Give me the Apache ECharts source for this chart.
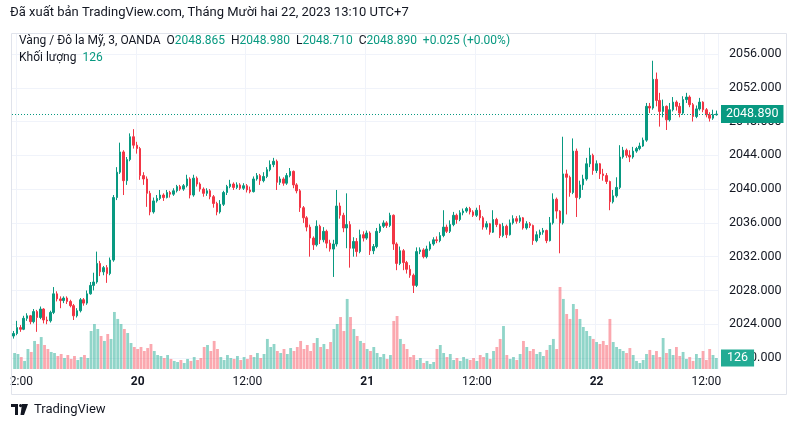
<!DOCTYPE html>
<html>
<head>
<meta charset="utf-8">
<script src="https://cdn.jsdelivr.net/npm/echarts@6/dist/echarts.min.js"></script>
<style>
html, body { margin: 0; padding: 0; background: #fff; }
#chart { width: 797px; height: 429px; }
</style>
</head>
<body>
<div id="chart"></div>
<script>
// 20-minute candles, Dec 19 11:40 -> Dec 22 13:00 (UTC+7)
const opens = [
  2022.6,2022.9,2023.6,2023.4,2024.7,2025.0,2024.3,2025.5,2024.8,2025.8,
  2024.5,2024.4,2025.4,2027.6,2027.0,2026.8,2027.1,2026.7,2026.2,2025.0,
  2025.6,2026.9,2026.5,2027.6,2028.6,2029.0,2031.2,2030.2,2030.7,2030.0,
  2031.6,2039.0,2042.0,2044.4,2041.0,2043.5,2046.2,2045.2,2044.8,2041.6,
  2041.2,2039.5,2037.3,2038.6,2038.9,2039.3,2039.0,2039.6,2039.4,2039.8,
  2040.3,2040.0,2040.4,2041.2,2039.3,2041.3,2040.6,2040.0,2039.5,2039.8,
  2039.1,2038.3,2037.3,2038.2,2039.6,2040.3,2040.6,2040.2,2040.5,2040.1,
  2040.4,2039.9,2039.7,2041.2,2041.6,2041.0,2041.5,2042.3,2042.9,2043.3,
  2040.8,2041.2,2040.7,2041.6,2042.1,2040.5,2039.8,2037.8,2036.6,2035.5,
  2034.2,2033.4,2035.6,2034.0,2035.0,2033.6,2032.9,2033.5,2038.0,2036.9,
  2035.4,2035.8,2033.0,2033.8,2032.6,2034.6,2034.2,2034.8,2032.7,2033.2,
  2035.0,2035.6,2036.0,2035.7,2036.9,2033.5,2031.2,2032.7,2031.3,2030.5,
  2029.8,2028.6,2032.6,2032.8,2032.0,2032.9,2033.5,2034.0,2033.9,2034.5,
  2035.5,2035.0,2035.8,2036.9,2036.4,2037.2,2037.4,2037.7,2037.3,2036.9,
  2037.5,2036.6,2035.5,2035.9,2034.9,2036.4,2035.8,2034.5,2035.6,2034.6,
  2036.0,2036.5,2036.2,2036.6,2035.4,2035.9,2035.7,2033.9,2034.6,2034.9,
  2035.1,2033.9,2036.0,2038.8,2037.4,2036.0,2041.8,2041.4,2039.6,2044.5,
  2039.0,2040.5,2041.2,2043.0,2044.0,2042.2,2043.0,2041.8,2041.6,2040.9,
  2038.5,2039.2,2040.2,2043.8,2044.6,2044.0,2043.8,2044.5,2044.8,2045.1,
  2045.8,2049.8,2049.6,2053.0,2050.5,2049.2,2049.8,2048.2,2049.4,2050.3,
  2049.8,2049.0,2050.6,2050.9,2050.0,2048.6,2049.5,2050.3,2049.4,2048.8,
  2048.4,2048.8
];
const closes = [
  2022.9,2023.6,2023.4,2024.7,2025.0,2024.3,2025.5,2024.8,2025.8,2024.5,
  2024.4,2025.4,2027.6,2027.0,2026.8,2027.1,2026.7,2026.2,2025.0,2025.6,
  2026.9,2026.5,2027.6,2028.6,2029.0,2031.2,2030.2,2030.7,2030.0,2031.6,
  2039.0,2042.0,2044.4,2041.0,2043.5,2046.2,2045.2,2044.8,2041.6,2041.2,
  2039.5,2037.3,2038.6,2038.9,2039.3,2039.0,2039.6,2039.4,2039.8,2040.3,
  2040.0,2040.4,2041.2,2039.3,2041.3,2040.6,2040.0,2039.5,2039.8,2039.1,
  2038.3,2037.3,2038.2,2039.6,2040.3,2040.6,2040.2,2040.5,2040.1,2040.4,
  2039.9,2039.7,2041.2,2041.6,2041.0,2041.5,2042.3,2042.9,2043.3,2040.8,
  2041.2,2040.7,2041.6,2042.1,2040.5,2039.8,2037.8,2036.6,2035.5,2034.2,
  2033.4,2035.6,2034.0,2035.0,2033.6,2032.9,2033.5,2038.0,2036.9,2035.4,
  2035.8,2033.0,2033.8,2032.6,2034.6,2034.2,2034.8,2032.7,2033.2,2035.0,
  2035.6,2036.0,2035.7,2036.9,2033.5,2031.2,2032.7,2031.3,2030.5,2029.8,
  2028.6,2032.6,2032.8,2032.0,2032.9,2033.5,2034.0,2033.9,2034.5,2035.5,
  2035.0,2035.8,2036.9,2036.4,2037.2,2037.4,2037.7,2037.3,2036.9,2037.5,
  2036.6,2035.5,2035.9,2034.9,2036.4,2035.8,2034.5,2035.6,2034.6,2036.0,
  2036.5,2036.2,2036.6,2035.4,2035.9,2035.7,2033.9,2034.6,2034.9,2035.1,
  2033.9,2036.0,2038.8,2037.4,2036.0,2041.8,2041.4,2039.6,2044.5,2039.0,
  2040.5,2041.2,2043.0,2044.0,2042.2,2043.0,2041.8,2041.6,2040.9,2038.5,
  2039.2,2040.2,2043.8,2044.6,2044.0,2043.8,2044.5,2044.8,2045.1,2045.8,
  2049.8,2049.6,2053.0,2050.5,2049.2,2049.8,2048.2,2049.4,2050.3,2049.8,
  2049.0,2050.6,2050.9,2050.0,2048.6,2049.5,2050.3,2049.4,2048.8,2048.4,
  2048.8,2048.89
];
const highs = [
  2023.2,2024.4,2023.9,2025.0,2025.3,2025.1,2025.8,2025.7,2026.1,2025.9,
  2024.9,2025.6,2028.4,2027.9,2027.3,2027.3,2027.3,2026.9,2026.4,2025.9,
  2027.1,2027.1,2028.0,2029.0,2030.1,2032.6,2031.5,2030.9,2031.0,2031.9,
  2039.3,2042.6,2045.5,2044.6,2043.8,2046.6,2047.1,2045.6,2045.0,2042.0,
  2041.5,2039.8,2039.0,2039.3,2039.9,2039.5,2039.9,2039.8,2040.1,2040.5,
  2040.5,2040.6,2041.7,2041.4,2041.7,2041.5,2040.8,2040.2,2040.1,2040.0,
  2039.3,2038.5,2038.7,2039.8,2040.5,2041.1,2040.8,2040.8,2040.7,2040.7,
  2040.6,2040.3,2041.5,2041.9,2041.8,2042.0,2042.6,2043.4,2043.7,2043.5,
  2041.5,2041.4,2041.9,2042.5,2042.2,2040.7,2040.0,2038.0,2036.8,2035.8,
  2034.4,2036.3,2035.8,2035.5,2035.2,2034.0,2034.0,2039.9,2038.4,2037.2,
  2039.5,2036.2,2034.3,2034.2,2035.2,2035.0,2035.1,2035.0,2033.5,2035.4,
  2035.9,2036.3,2036.2,2037.2,2037.0,2033.7,2033.2,2032.9,2031.5,2031.0,
  2030.0,2033.1,2033.1,2033.0,2033.3,2033.8,2034.3,2034.4,2034.9,2037.5,
  2035.8,2036.3,2037.3,2037.1,2037.5,2037.7,2037.9,2037.9,2037.5,2037.8,
  2038.1,2036.8,2036.2,2036.0,2037.5,2036.6,2035.9,2036.0,2035.8,2036.4,
  2036.9,2036.8,2036.9,2036.7,2036.2,2036.1,2035.8,2035.0,2035.2,2035.4,
  2035.2,2036.7,2039.5,2039.0,2037.5,2046.2,2042.3,2041.6,2046.0,2044.8,
  2041.0,2041.7,2043.7,2044.9,2044.2,2043.4,2043.1,2042.4,2041.9,2041.0,
  2039.9,2041.4,2045.2,2045.0,2044.8,2044.6,2045.0,2045.0,2045.5,2046.1,
  2050.2,2050.2,2055.2,2053.8,2051.4,2050.6,2049.9,2050.2,2050.9,2050.5,
  2050.2,2051.0,2051.4,2051.1,2050.2,2049.9,2050.8,2050.4,2049.6,2049.1,
  2049.4,2049.3
];
const lows = [
  2022.3,2022.7,2023.1,2023.3,2024.4,2024.0,2024.1,2023.1,2024.6,2024.1,
  2024.0,2024.2,2025.2,2026.7,2025.9,2026.5,2026.4,2026.0,2024.5,2024.8,
  2025.4,2026.2,2026.3,2027.5,2028.0,2028.8,2029.7,2029.8,2028.9,2029.8,
  2031.4,2038.7,2041.8,2039.3,2040.5,2043.3,2044.8,2044.2,2041.1,2040.5,
  2037.9,2036.9,2037.1,2038.4,2038.7,2038.6,2038.9,2039.0,2039.2,2039.6,
  2039.8,2039.8,2040.2,2038.9,2039.1,2040.3,2039.7,2039.1,2039.2,2038.8,
  2037.8,2036.9,2037.1,2038.0,2039.3,2040.1,2039.9,2040.0,2039.9,2039.9,
  2039.6,2039.5,2039.6,2041.0,2040.5,2040.8,2041.3,2042.1,2042.6,2039.9,
  2040.5,2040.4,2040.5,2041.4,2040.1,2039.5,2037.3,2036.0,2035.0,2032.0,
  2032.8,2033.2,2033.5,2033.7,2033.0,2032.6,2029.6,2033.2,2036.5,2034.9,
  2033.0,2030.7,2032.0,2032.0,2032.4,2033.8,2034.0,2032.2,2032.3,2033.0,
  2034.8,2035.4,2035.4,2035.5,2032.8,2030.4,2031.0,2030.4,2030.0,2029.5,
  2027.7,2028.4,2032.3,2031.8,2031.8,2032.7,2033.3,2033.6,2033.7,2034.3,
  2034.8,2034.8,2035.6,2035.9,2036.2,2036.9,2037.2,2037.0,2036.7,2036.7,
  2036.3,2035.2,2035.2,2034.6,2034.8,2035.5,2034.2,2034.3,2034.2,2034.5,
  2035.8,2035.9,2036.0,2035.2,2035.2,2035.4,2033.4,2033.7,2034.2,2034.6,
  2033.6,2033.8,2035.8,2036.5,2032.4,2035.8,2037.0,2039.1,2039.4,2036.7,
  2038.8,2039.9,2041.0,2042.6,2041.7,2041.9,2041.2,2041.0,2040.6,2037.5,
  2038.3,2039.0,2040.0,2043.6,2043.7,2043.2,2043.6,2044.3,2044.6,2045.0,
  2045.6,2049.0,2049.4,2049.8,2047.4,2048.5,2047.0,2048.0,2049.2,2049.3,
  2048.5,2048.8,2050.2,2049.7,2048.0,2048.4,2049.3,2049.1,2048.5,2048.0,
  2048.2,2048.7
];
const volumes = [
  183,172,137,92,229,195,321,286,366,275,
  229,195,183,149,172,126,160,115,149,103,
  137,160,126,435,515,458,378,321,401,344,
  653,573,515,458,412,298,252,229,252,206,
  240,286,206,160,149,126,160,115,92,80,
  103,69,115,92,137,103,126,252,275,206,
  321,229,137,103,160,126,115,149,103,137,
  115,160,137,183,126,172,344,252,286,206,
  183,229,172,240,206,252,321,229,275,206,
  298,355,252,286,229,309,458,515,595,435,
  802,595,458,378,321,298,229,206,252,183,
  137,172,115,160,550,607,344,286,229,137,
  160,103,126,69,92,57,80,229,275,183,
  137,172,103,126,92,137,115,103,126,92,
  160,137,183,115,206,252,344,492,160,115,
  137,103,172,321,252,206,229,172,195,149,
  218,275,344,229,939,802,630,573,744,687,
  573,481,435,378,344,309,286,321,275,573,
  309,252,229,206,183,240,160,92,69,103,
  172,218,160,206,137,355,183,229,160,252,
  149,195,115,137,92,172,126,206,103,229,
  160,126
];

// time scale ticks
const tickCats = ['19 12:00', '20 00:00', '20 12:00', '21 00:00', '21 12:00', '22 00:00', '22 12:00'];
const tickTexts = ['12:00', '20', '12:00', '21', '12:00', '22', '12:00'];
const priceTicks = [2020, 2024, 2028, 2032, 2036, 2040, 2044, 2048, 2052, 2056];

// legend values of the last 3-minute bar
const legendOHLC = [2048.865, 2048.980, 2048.710, 2048.890];
const legendChange = '+0.025 (+0.00%)';
const lastVolume = 126;

// categories: 20-minute steps, gold's 05:00-06:00 break skipped
const cats = [];
let t = Date.UTC(2023, 11, 19, 11, 40);
while (cats.length < closes.length) {
    const d = new Date(t);
    if (d.getUTCHours() !== 5) {
        const p = n => String(n).padStart(2, '0');
        cats.push(p(d.getUTCDate()) + ' ' + p(d.getUTCHours()) + ':' + p(d.getUTCMinutes()));
    }
    t += 20 * 60000;
}
const isTick = (i, v) => tickCats.indexOf(v) >= 0;

const UP = '#089981', DOWN = '#f23645';
const FONT = "'Trebuchet MS', Roboto, sans-serif";
const lastClose = closes[closes.length - 1];

const candleData = opens.map((o, i) => [o, closes[i], lows[i], highs[i]]);
const volData = volumes.map((v, i) => ({
    value: v,
    itemStyle: { color: closes[i] >= opens[i] ? 'rgba(34,171,148,0.5)' : 'rgba(247,82,95,0.5)' }
}));

let myChart = echarts.init(document.getElementById('chart'));
let option = {
    animation: false,
    backgroundColor: '#fff',
    textStyle: { fontFamily: FONT },
    title: [
        {
            left: 10, top: 6, padding: 0,
            text: 'Đã xuất bản TradingView.com, Tháng Mười hai 22, 2023 13:10 UTC+7',
            textStyle: { fontSize: 13, fontWeight: 'normal', color: '#131722', fontFamily: FONT }
        },
        {
            left: 19, top: 35, padding: 0,
            text: '{n|Vàng / Đô la Mỹ, 3, OANDA}  {n|O}{v|' + legendOHLC[0].toFixed(3) + '}  {n|H}{v|' + legendOHLC[1].toFixed(3) +
                '}  {n|L}{v|' + legendOHLC[2].toFixed(3) + '}  {n|C}{v|' + legendOHLC[3].toFixed(3) + '}  {v|' + legendChange + '}',
            textStyle: {
                fontSize: 12, fontWeight: 'normal', fontFamily: FONT,
                rich: {
                    n: { color: '#131722', fontSize: 12, fontFamily: FONT },
                    v: { color: UP, fontSize: 12, fontFamily: FONT }
                }
            }
        },
        {
            left: 19, top: 52, padding: 0,
            text: '{n|Khối lượng}  {v|' + lastVolume + '}',
            textStyle: {
                fontSize: 12, fontWeight: 'normal', fontFamily: FONT,
                rich: {
                    n: { color: '#131722', fontSize: 12, fontFamily: FONT },
                    v: { color: UP, fontSize: 12, fontFamily: FONT }
                }
            }
        }
    ],
    grid: [
        // price pane: 2016..2060 mapped so that 2056 sits at y=54 and 2020 at y=358
        { left: 12, right: 79, top: 20.2, bottom: 37.2 },
        // volume + time scale pane
        { left: 12, right: 79, top: 33, bottom: 60 }
    ],
    xAxis: [
        { type: 'category', gridIndex: 0, data: cats, show: false },
        {
            type: 'category', gridIndex: 1, data: cats,
            axisLine: { show: false }, axisTick: { show: false },
            axisLabel: {
                interval: isTick, margin: 7, color: '#131722', fontSize: 12, fontFamily: FONT,
                formatter: v => {
                    const s = tickTexts[tickCats.indexOf(v)];
                    return s.indexOf(':') >= 0 ? s : '{b|' + s + '}';
                },
                rich: { b: { fontWeight: 'bold', fontSize: 12, color: '#131722', fontFamily: FONT } }
            },
            splitLine: { show: true, interval: isTick, lineStyle: { color: '#f0f3fa', width: 1 } }
        }
    ],
    yAxis: [
        {
            type: 'value', gridIndex: 0, position: 'right', min: 2016, max: 2060, interval: 4,
            axisLine: { show: false }, axisTick: { show: false },
            axisLabel: {
                margin: 11, color: '#131722', fontSize: 12.5, fontFamily: FONT,
                showMinLabel: false, showMaxLabel: false,
                formatter: v => priceTicks.indexOf(v) >= 0 ? v.toFixed(3) : ''
            },
            splitLine: { show: true, showMinLine: false, showMaxLine: false, lineStyle: { color: '#f0f3fa', width: 1 } }
        },
        { type: 'value', gridIndex: 1, min: 0, max: 3847, show: false, splitLine: { show: false } }
    ],
    series: [
        {
            name: 'Khối lượng',
            type: 'bar',
            xAxisIndex: 1, yAxisIndex: 1,
            barWidth: '85%',
            data: volData,
            z: 1,
            markLine: {
                silent: true, symbol: 'none', z: 20,
                lineStyle: { color: 'rgba(0,0,0,0)', width: 0 },
                label: {
                    show: true, position: 'end', distance: 3, formatter: String(lastVolume),
                    backgroundColor: '#22ab94', color: '#fff', fontSize: 12.5, fontFamily: FONT,
                    padding: [2, 6, 2, 6]
                },
                data: [{ yAxis: lastVolume }]
            }
        },
        {
            name: 'Vàng / Đô la Mỹ',
            type: 'candlestick',
            xAxisIndex: 0, yAxisIndex: 0,
            barWidth: 2,
            data: candleData,
            z: 3,
            itemStyle: { color: UP, color0: DOWN, borderColor: UP, borderColor0: DOWN, borderWidth: 1 },
            markLine: {
                silent: true, symbol: 'none', z: 20,
                lineStyle: { color: UP, type: [1, 2], width: 1 },
                label: {
                    position: 'end', distance: 3, formatter: lastClose.toFixed(3),
                    backgroundColor: UP, color: '#fff', fontSize: 12.5, fontFamily: FONT,
                    padding: [3, 5, 2, 5]
                },
                data: [{ yAxis: lastClose }]
            }
        }
    ],
    graphic: [
        { type: 'rect', z: 100, shape: { x: 0, y: 368, width: 10.5, height: 26 }, style: { fill: '#fff' } },
        { type: 'rect', z: 101, shape: { x: 11.5, y: 33.5, width: 775, height: 361 }, style: { fill: 'none', stroke: '#e0e3eb', lineWidth: 1 } },
        {
            type: 'group', left: 11, top: 404, z: 101,
            children: [
                { type: 'rect', shape: { x: 0, y: 0, width: 7, height: 3 }, style: { fill: '#131722' } },
                { type: 'rect', shape: { x: 4, y: 0, width: 3, height: 11 }, style: { fill: '#131722' } },
                { type: 'circle', shape: { cx: 9.6, cy: 1.6, r: 1.6 }, style: { fill: '#131722' } },
                { type: 'polygon', shape: { points: [[11, 0], [17, 0], [13, 11], [9.5, 11]] }, style: { fill: '#131722' } }
            ]
        },
        { type: 'text', left: 34, top: 403, z: 101, style: { text: 'TradingView', fill: '#131722', font: '13px ' + FONT } }
    ]
};
myChart.setOption(option);
</script>
</body>
</html>
